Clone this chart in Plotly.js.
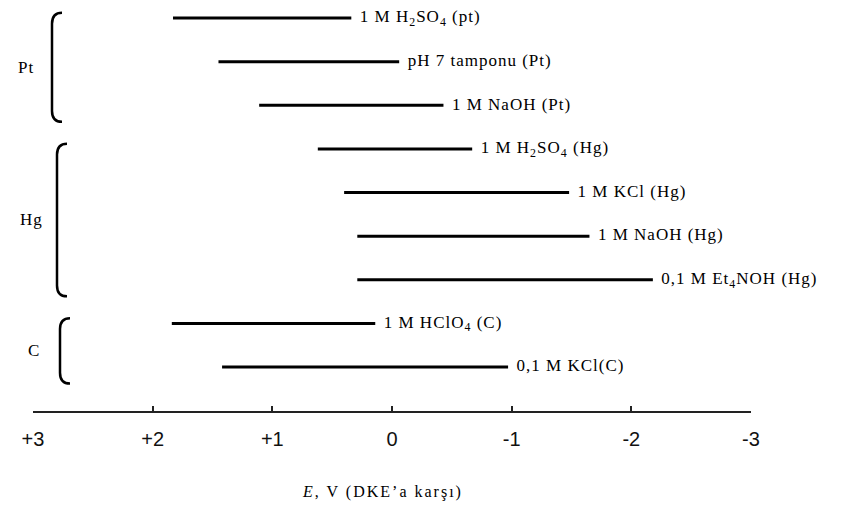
<!DOCTYPE html>
<html>
<head>
<meta charset="utf-8">
<script src="https://cdn.plot.ly/plotly-3.0.1.min.js"></script>
<style>
  html, body { margin: 0; padding: 0; background: #fff; }
  #chart { width: 846px; height: 512px; }
  .textpoint text, .annotation-text { letter-spacing: 1px; }
  .xtitle { letter-spacing: 2px; }
</style>
</head>
<body>
<div id="chart"></div>
<script>
// ---- data ----
const labels = [
  "1 M H<sub>2</sub>SO<sub>4</sub> (pt)",
  "pH 7 tamponu (Pt)",
  "1 M NaOH (Pt)",
  "1 M H<sub>2</sub>SO<sub>4</sub> (Hg)",
  "1 M KCl (Hg)",
  "1 M NaOH (Hg)",
  "0,1 M Et<sub>4</sub>NOH (Hg)",
  "1 M HClO<sub>4</sub> (C)",
  "0,1 M KCl(C)"
];
const startV = [1.83, 1.45, 1.11, 0.62, 0.40, 0.29, 0.29, 1.84, 1.42];
const endV   = [0.34, -0.06, -0.43, -0.67, -1.48, -1.65, -2.18, 0.14, -0.97];

const groups     = ["Pt", "Hg", "C"];
const groupFirst = [0, 3, 7];
const groupLast  = [2, 6, 8];

const tickVals = [3, 2, 1, 0, -1, -2, -3];
const tickText = ["+3", "+2", "+1", "0", "-1", "-2", "-3"];

// ---- style ----
const plotLeft = 33, plotRight = 751;
const plotW = plotRight - plotLeft;
const braceVX = [52, 57, 60];   // px of vertical stroke
const braceHook = 10;           // px hook width
const labelGap = 26;            // px from brace to group label center
const serif = "Liberation Serif, Times New Roman, serif";

function px2paper(p) { return (p - plotLeft) / plotW; }

// segments trace
const xs = [], ys = [];
for (let i = 0; i < labels.length; i++) {
  xs.push(startV[i], endV[i], null);
  ys.push(i, i, null);
}

const traces = [{
  type: "scatter", mode: "lines",
  x: xs, y: ys,
  line: { color: "#000", width: 3 },
  hoverinfo: "skip", showlegend: false
}, {
  type: "scatter", mode: "markers+text",
  x: endV, y: labels.map((_, i) => i),
  text: labels, textposition: "middle right",
  marker: { size: 12, opacity: 0 },
  textfont: { family: serif, size: 17, color: "#000" },
  cliponaxis: false, hoverinfo: "skip", showlegend: false
}];

const shapes = [];
const annotations = [];
groups.forEach((g, k) => {
  const top = groupFirst[k] - 0.12;
  const bot = groupLast[k] + 0.38;
  const d = 0.25;
  const vx = px2paper(braceVX[k]);
  const hx = px2paper(braceVX[k] + braceHook);
  const path = `M ${hx},${top} Q ${vx},${top} ${vx},${top + d} L ${vx},${bot - d} Q ${vx},${bot} ${hx},${bot}`;
  shapes.push({
    type: "path", xref: "paper", yref: "y", path: path,
    line: { color: "#000", width: 2.5 }
  });
  annotations.push({
    x: px2paper(braceVX[k] - labelGap), y: (top + bot) / 2,
    xref: "paper", yref: "y", text: g, showarrow: false,
    xanchor: "center", yanchor: "middle",
    font: { family: serif, size: 17, color: "#000" }
  });
});

const rowPx = 43.625, firstRowPx = 18, axisPx = 411;
const layout = {
  width: 846, height: 512,
  margin: { l: plotLeft, r: 846 - plotRight, t: 0, b: 512 - axisPx },
  paper_bgcolor: "#fff", plot_bgcolor: "#fff",
  showlegend: false,
  xaxis: {
    range: [3, -3],
    tickvals: tickVals, ticktext: tickText,
    ticks: "inside", ticklen: 5, tickwidth: 1.5, tickcolor: "#222",
    showline: true, linecolor: "#222", linewidth: 1.5,
    showgrid: false, zeroline: false,
    ticklabelstandoff: 9,
    tickfont: { family: "Liberation Sans, Arial, sans-serif", size: 20, color: "#111" },
    title: {
      text: "<i>E</i>, V (DKE’a karşı)&nbsp;&nbsp;&nbsp;",
      font: { family: serif, size: 16, color: "#000" },
      standoff: 37
    },
    automargin: false, fixedrange: true
  },
  yaxis: {
    range: [8 + (axisPx - 367) / rowPx, -firstRowPx / rowPx],
    visible: false, showgrid: false, zeroline: false, fixedrange: true
  },
  shapes: shapes,
  annotations: annotations
};

Plotly.newPlot("chart", traces, layout, { displayModeBar: false });
</script>
</body>
</html>
